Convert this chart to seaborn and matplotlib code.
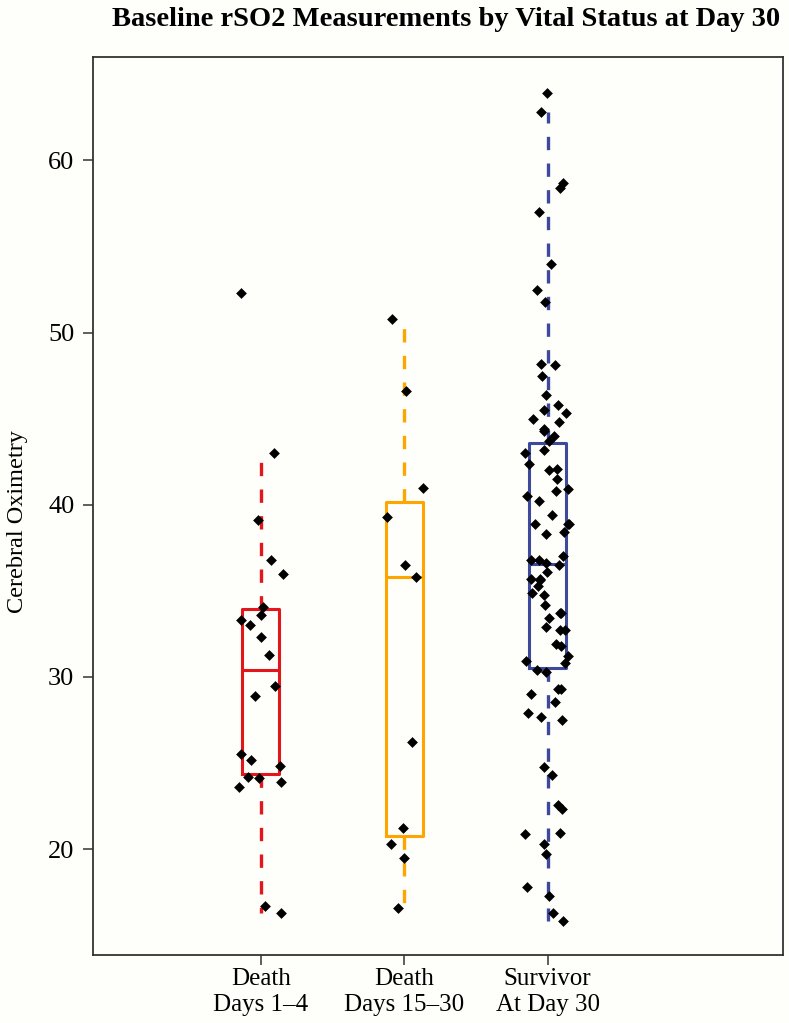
import numpy as np
import pandas as pd
import matplotlib
matplotlib.use("Agg")
import matplotlib.pyplot as plt
import seaborn as sns

# values
groups = ["Death\nDays 1\u20134", "Death\nDays 15\u201330", "Survivor\nAt Day 30"]
box_colors = ["#E3161C", "#FFA500", "#3D4A9C"]

death_early = [52.3, 43.0, 39.1, 36.8, 36.0, 34.05, 33.6, 33.3, 33.0, 32.3, 31.25,
               29.5, 28.9, 25.5, 25.2, 24.8, 24.2, 24.1, 23.9, 23.6, 16.7, 16.3]

death_late = [50.8, 46.6, 41.0, 39.3, 36.5, 35.8, 26.2, 21.2, 20.3, 19.5, 16.6]

survivor = [63.9, 62.8, 58.7, 58.4, 57.0, 54.0, 52.5, 51.8, 48.2, 48.1, 47.5, 46.4,
            45.8, 45.5, 45.3, 45.0, 44.8, 44.4, 44.3, 44.0, 43.7, 43.2, 43.0, 42.35,
            42.1, 42.0, 41.5, 40.9, 40.8, 40.5, 40.2, 39.4, 38.9, 38.9, 38.9, 38.4,
            38.3, 37.0, 36.8, 36.8, 36.6, 36.5, 36.1, 35.7, 35.7, 35.6, 35.3, 34.9,
            34.75, 34.2, 33.7, 33.7, 33.45, 32.9, 32.75, 32.7, 31.9, 31.8, 31.2, 30.9,
            30.8, 30.4, 30.3, 29.3, 29.3, 29.0, 28.55, 27.9, 27.7, 27.5, 24.75, 24.3,
            22.55, 22.3, 20.95, 20.9, 20.3, 19.7, 17.8, 17.3, 16.3, 15.8]

y_ticks = [20, 30, 40, 50, 60]

df = pd.DataFrame({
    "group": [groups[0]] * len(death_early) + [groups[1]] * len(death_late)
             + [groups[2]] * len(survivor),
    "rso2": death_early + death_late + survivor,
})

bg = "#FEFEFA"
plt.rcParams["font.family"] = ["Liberation Serif", "DejaVu Serif"]

fig = plt.figure(figsize=(7.89, 10.23), dpi=100, facecolor=bg)
ax = fig.add_axes([0.118, 0.0665, 0.874, 0.8777])
ax.set_facecolor(bg)

sns.boxplot(data=df, x="group", y="rso2", hue="group", order=groups, hue_order=groups,
            palette=box_colors, saturation=1, fill=False, width=0.26, linewidth=2.2,
            showfliers=False, showcaps=False, legend=False,
            whiskerprops=dict(linestyle=(0, (4, 4)), linewidth=2.4), ax=ax)

np.random.seed(7)
sns.stripplot(data=df, x="group", y="rso2", order=groups, color="black", marker="D",
              size=5.5, jitter=0.16, linewidth=0, zorder=3, ax=ax)

ax.set_xlim(-1.17, 3.64)
ax.set_ylim(13.85, 66.0)
ax.set_yticks(y_ticks)
ax.set_yticklabels([str(t) for t in y_ticks], fontsize=19)
ax.set_xticks(range(len(groups)))
ax.set_xticklabels(groups, fontsize=18, linespacing=1.25)
ax.tick_params(axis="both", direction="out", length=7.5, width=1.1, color="#333333")
ax.tick_params(axis="y", pad=6)
ax.tick_params(axis="x", pad=2)
ax.set_xlabel("")
ax.set_ylabel("Cerebral Oximetry", fontsize=17.5)
ax.yaxis.set_label_coords(-0.094, 0.483)
for s in ax.spines.values():
    s.set_linewidth(1.3)
    s.set_color("#333333")

fig.text(446 / 789, 1 - 19 / 1023, "Baseline rSO2 Measurements by Vital Status at Day 30",
         fontsize=20.5, fontweight="bold", ha="center", va="center")

fig.savefig("out.png", dpi=100, facecolor=bg)
